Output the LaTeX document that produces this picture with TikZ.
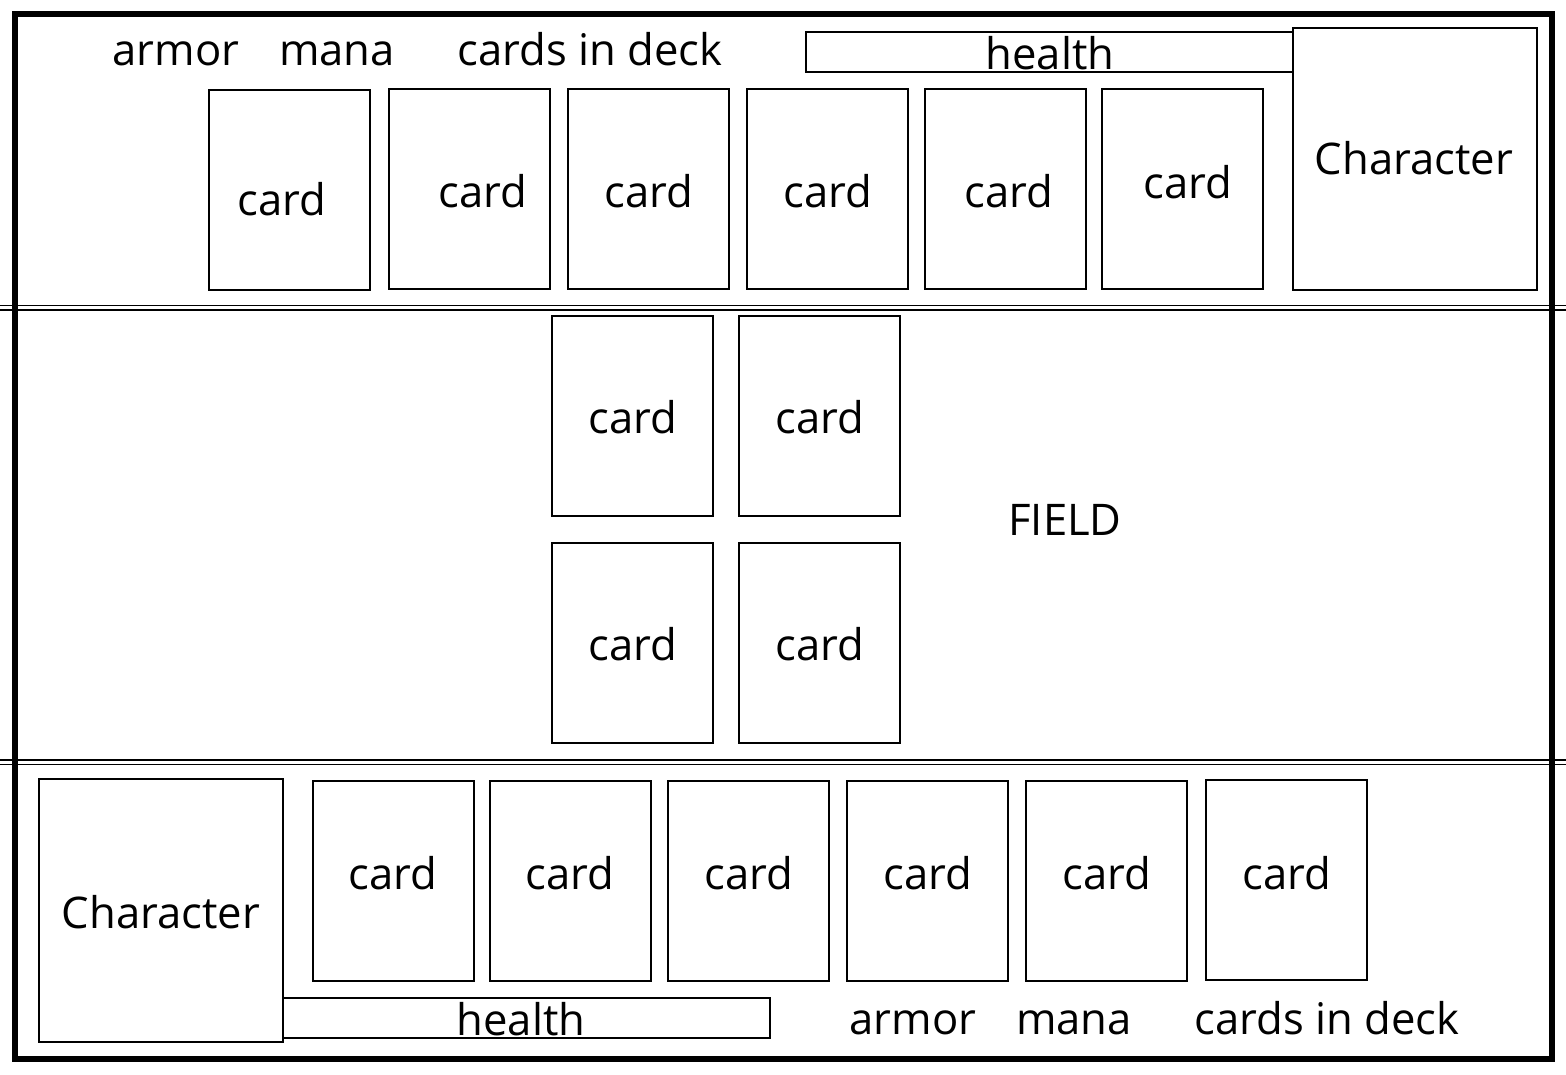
\documentclass[tikz,border=0pt]{standalone}
\usepackage{fontspec}
\setmainfont{Open Sans}
\begin{document}
\begin{tikzpicture}[x=1pt,y=-1pt,
  box/.style={draw,line width=2pt,inner sep=0pt,outer sep=0pt},
  cardbox/.style={box,minimum width=161pt,minimum height=200pt},
  charbox/.style={box,minimum width=244pt,minimum height=262pt},
  healthbox/.style={box,minimum width=487pt,minimum height=40pt},
  lbl/.style={anchor=base,inner sep=0pt,font=\fontsize{43.6}{50}\selectfont},
  sep/.style={line width=1.5pt}]
\useasboundingbox (0,0) rectangle (1566,1074);
% outer frame
\draw[line width=6pt] (15,14) rectangle (1552,1059);
% separators
\coordinate (s1l) at (0,305.5); \coordinate (s1r) at (1566,305.5);
\coordinate (s2l) at (0,310);   \coordinate (s2r) at (1566,310);
\coordinate (s3l) at (0,760);   \coordinate (s3r) at (1566,760);
\coordinate (s4l) at (0,764.5); \coordinate (s4r) at (1566,764.5);
\draw[sep] (s1l) -- (s1r); \draw[sep] (s2l) -- (s2r);
\draw[sep] (s3l) -- (s3r); \draw[sep] (s4l) -- (s4r);
% top player
\node[healthbox] (th) at (1049.5,52) {};
\node[charbox] (tc) at (1415,159) {};
\node[lbl] (thl) at (1050,69) {health};
\node[lbl] (tcl) at (1414,174) {Character};
\node[lbl] (tar) at (176,65) {armor};
\node[lbl] (tma) at (337,65) {mana};
\node[lbl] (tde) at (590,65) {cards in deck};
\node[cardbox] (t1) at (289.5,190) {};
\node[cardbox] (t2) at (469.5,189) {};
\node[cardbox] (t3) at (648.5,189) {};
\node[cardbox] (t4) at (827.5,189) {};
\node[cardbox] (t5) at (1005.5,189) {};
\node[cardbox] (t6) at (1182.5,189) {};
\node[lbl] (t1l) at (282,215) {card};
\node[lbl] (t2l) at (483,207) {card};
\node[lbl] (t3l) at (649,207) {card};
\node[lbl] (t4l) at (828,207) {card};
\node[lbl] (t5l) at (1009,207) {card};
\node[lbl] (t6l) at (1188,198) {card};
% field
\node[cardbox] (f1) at (632.5,416) {};
\node[cardbox] (f2) at (819.5,416) {};
\node[cardbox] (f3) at (632.5,643) {};
\node[cardbox] (f4) at (819.5,643) {};
\node[lbl] (f1l) at (633,433) {card};
\node[lbl] (f2l) at (820,433) {card};
\node[lbl] (f3l) at (633,660) {card};
\node[lbl] (f4l) at (820,660) {card};
\node[lbl] (field) at (1065,535) {FIELD};
% bottom player
\node[healthbox] (bh) at (526.5,1018) {};
\node[charbox,minimum height=263pt] (bc) at (161,910.5) {};
\node[lbl] (bhl) at (521,1035) {health};
\node[lbl] (bcl) at (161,928) {Character};
\node[cardbox] (b1) at (393.5,881) {};
\node[cardbox] (b2) at (570.5,881) {};
\node[cardbox] (b3) at (748.5,881) {};
\node[cardbox] (b4) at (927.5,881) {};
\node[cardbox] (b5) at (1106.5,881) {};
\node[cardbox] (b6) at (1286.5,880) {};
\node[lbl] (b1l) at (393,889) {card};
\node[lbl] (b2l) at (570,889) {card};
\node[lbl] (b3l) at (749,889) {card};
\node[lbl] (b4l) at (928,889) {card};
\node[lbl] (b5l) at (1107,889) {card};
\node[lbl] (b6l) at (1287,889) {card};
\node[lbl] (bar) at (913,1034) {armor};
\node[lbl] (bma) at (1074,1034) {mana};
\node[lbl] (bde) at (1327,1034) {cards in deck};
\end{tikzpicture}
\end{document}
